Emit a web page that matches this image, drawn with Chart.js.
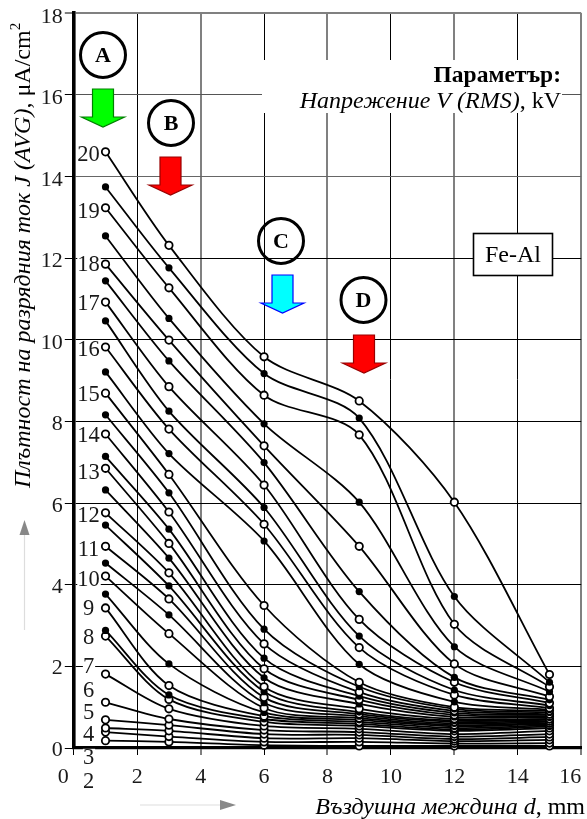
<!DOCTYPE html>
<html lang="bg">
<head>
<meta charset="utf-8">
<title>Плътност на разрядния ток</title>
<script src="https://cdn.jsdelivr.net/npm/chart.js@4"></script>
<style>html,body{margin:0;padding:0;background:#fff}canvas{display:block}</style>
</head>
<body>
<canvas id="c" width="587" height="819"></canvas>
<script>
const gapsMm = [1, 3, 6, 9, 12, 15];
const voltages = [20,19.5,19,18.5,18,17.5,17,16.5,16,15.5,15,14.5,14,13.5,13,12.5,12,11.5,11,10.5,10,9.5,9,8.5,8,7,6,5,4,3,2];
const currentAt1mm = [14.60,13.74,13.23,12.54,11.85,11.44,10.92,10.46,9.82,9.21,8.69,8.16,7.69,7.14,6.85,6.32,5.76,5.46,4.94,4.53,4.21,3.77,3.43,2.88,2.74,1.81,1.12,0.69,0.49,0.39,0.18];
const currentAt3mm = [12.31,11.76,11.27,10.52,9.99,9.48,8.85,8.25,7.81,7.21,6.70,6.25,5.78,5.36,5.01,4.65,4.29,3.97,3.65,3.26,2.80,2.06,1.53,1.30,1.19,0.96,0.71,0.56,0.42,0.28,0.15];
const currentAt6mm = [9.58,9.17,8.64,7.94,7.40,6.99,6.44,5.89,5.48,5.07,3.49,2.91,2.55,2.20,1.94,1.72,1.50,1.38,1.24,1.11,0.98,0.87,0.78,0.71,0.64,0.54,0.44,0.34,0.24,0.15,0.07];
const currentAt9mm = [8.50,8.08,7.67,6.02,4.94,3.83,3.15,2.74,2.46,2.05,1.61,1.50,1.37,1.27,1.18,1.08,0.96,0.88,0.83,0.78,0.73,0.69,0.64,0.59,0.54,0.47,0.39,0.32,0.24,0.15,0.05];
const currentAt12mm = [6.02,3.71,3.03,2.48,2.06,1.73,1.61,1.42,1.30,1.13,1.00,0.96,0.91,0.86,0.81,0.76,0.71,0.67,0.64,0.60,0.56,0.53,0.49,0.45,0.42,0.34,0.28,0.22,0.17,0.11,0.05];
const currentAt15mm = [1.80,1.61,1.50,1.38,1.26,1.18,1.10,1.04,0.98,0.94,0.91,0.87,0.83,0.81,0.78,0.75,0.71,0.69,0.66,0.64,0.61,0.59,0.56,0.53,0.49,0.42,0.34,0.27,0.20,0.12,0.05];
const voltageLabels = ['20','19','18','17','16','15','14','13','12','11','10','9','8','7','6','5','4','3','2'];
const voltageLabelLevels = [14.52,13.13,11.83,10.87,9.75,8.65,7.65,6.74,5.68,4.85,4.11,3.40,2.69,1.98,1.40,0.86,0.32,-0.24,-0.83];
const xTickValues = [0,2,4,6,8,10,12,14,16];
const yTickValues = [0,2,4,6,8,10,12,14,16,18];
const xRange = [0,16];
const yRange = [0,18];

const SERIF = '"Liberation Serif","Times New Roman",serif';
const columns = [currentAt1mm,currentAt3mm,currentAt6mm,currentAt9mm,currentAt12mm,currentAt15mm];
const datasets = voltages.map((v,i)=>{
  const open = Number.isInteger(v);
  return {
    label: v+' kV',
    data: gapsMm.map((g,j)=>({x:g,y:columns[j][i]})),
    borderColor:'#000', borderWidth:1.8, tension:0.3, clip:false, fill:false,
    pointRadius:open?3.7:3.6, pointBorderWidth:open?1.8:0,
    pointBackgroundColor:open?'#fff':'#000', pointBorderColor:'#000'
  };
});

function downArrow(c,cx,top,fill,stroke){
  c.beginPath();
  c.moveTo(cx-10.5,top);c.lineTo(cx+10.5,top);c.lineTo(cx+10.5,top+28);c.lineTo(cx+21.5,top+28);
  c.lineTo(cx,top+38);c.lineTo(cx-21.5,top+28);c.lineTo(cx-10.5,top+28);c.closePath();
  c.fillStyle=fill;c.fill();c.strokeStyle=stroke;c.lineWidth=1.2;c.stroke();
}
function badge(c,cx,cy,t){
  c.beginPath();c.arc(cx,cy,22.5,0,Math.PI*2);c.strokeStyle='#000';c.lineWidth=3;c.stroke();
  c.fillStyle='#000';c.font='bold 22px '+SERIF;c.textAlign='center';c.textBaseline='middle';c.fillText(t,cx,cy+1);
}
function runs(c,parts,x,y){
  parts.forEach(p=>{c.font=p[1];c.fillText(p[0],x,y);x+=c.measureText(p[0]).width;});
  return x;
}
const notes={
  id:'notes',
  beforeDraw(ch){
    const sx=ch.scales.x, sy=ch.scales.y;
    sx.getLabelItems().forEach((it,i)=>{
      const v=sx.ticks[i].value;
      if(v===0) it.options.translation[0]=sx.getPixelForValue(0)-10.5;
      if(v===16) it.options.translation[0]=sx.getPixelForValue(16)-11;
    });
    sy.getLabelItems().forEach((it,i)=>{
      const v=sy.ticks[i].value;
      it.options.translation[1]=sy.getPixelForValue(v)+2+v/18*2.2;
    });
  },
  beforeDatasetsDraw(ch){
    const c=ch.ctx;
    c.save();c.fillStyle='#fff';c.fillRect(262,60,300,53);c.restore();
  },
  afterDatasetsDraw(ch){
    const c=ch.ctx, sx=ch.scales.x, sy=ch.scales.y;
    c.save();
    c.font='22.5px '+SERIF;c.textAlign='center';c.textBaseline='middle';
    const lx=sx.getPixelForValue(gapsMm[0])-17;
    voltageLabels.forEach((t,i)=>{
      const y=sy.getPixelForValue(voltageLabelLevels[i]);
      const w=c.measureText(t).width;
      c.fillStyle='#fff';c.fillRect(lx-w/2,y-9,w+1,18);
      c.fillStyle='#1a1a1a';c.fillText(t,lx,y);
    });
    badge(c,103,55,'A');badge(c,171,123,'B');badge(c,281,241,'C');badge(c,363.5,300,'D');
    downArrow(c,103,89,'#00ff00','#008000');
    downArrow(c,170.5,157,'#ff0000','#990000');
    downArrow(c,282.5,275,'#00ffff','#0000ff');
    downArrow(c,364,335,'#ff0000','#990000');
    c.fillStyle='#000';c.textBaseline='alphabetic';c.textAlign='right';
    c.font='bold 23.5px '+SERIF;c.fillText('Параметър:',561,82);
    c.textAlign='left';
    const second=[['Напрежение V (RMS)','italic 24px '+SERIF],[', kV','24px '+SERIF]];
    let w2=0;second.forEach(p=>{c.font=p[1];w2+=c.measureText(p[0]).width;});
    runs(c,second,561-w2,108);
    c.fillStyle='#fff';c.fillRect(473.5,233.5,79,42);
    c.strokeStyle='#000';c.lineWidth=1.6;c.strokeRect(473.5,233.5,79,42);
    c.fillStyle='#000';c.font='24px '+SERIF;c.textAlign='center';c.textBaseline='middle';c.fillText('Fe-Al',513,255.5);
    c.textAlign='left';c.textBaseline='alphabetic';
    const xt=[['Въздушна междина d','italic 24px '+SERIF],[', mm','24px '+SERIF]];
    let wx=0;xt.forEach(p=>{c.font=p[1];wx+=c.measureText(p[0]).width;});
    runs(c,xt,585-wx,814);
    c.save();c.translate(30,488);c.rotate(-Math.PI/2);c.fillStyle='#000';
    let e=runs(c,[['Плътност на разрядния ток J (AVG)','italic 24px '+SERIF],[', μA/cm','24px '+SERIF]],0,0);
    c.font='15px '+SERIF;c.fillText('2',e,-10);
    c.restore();
    c.strokeStyle='#dddddd';c.lineWidth=1.2;c.beginPath();c.moveTo(24.5,630);c.lineTo(24.5,535);c.stroke();
    c.fillStyle='#888';c.beginPath();c.moveTo(24.5,520);c.lineTo(29.5,535);c.lineTo(19.5,535);c.closePath();c.fill();
    c.beginPath();c.moveTo(140,805);c.lineTo(220,805);c.stroke();
    c.beginPath();c.moveTo(236,805);c.lineTo(220,800);c.lineTo(220,810);c.closePath();c.fill();
    c.restore();
  }
};

new Chart(document.getElementById('c'),{
  type:'line',
  data:{datasets},
  plugins:[notes],
  options:{
    responsive:false,animation:false,
    layout:{padding:{top:13,right:3,left:0,bottom:0}},
    plugins:{legend:{display:false},title:{display:false},tooltip:{enabled:false}},
    scales:{
      x:{
        type:'linear',min:xRange[0],max:xRange[1],
        afterBuildTicks:s=>{s.ticks=xTickValues.map(v=>({value:v}));},
        afterFit:s=>{s.height=71;s.paddingLeft=0;s.paddingRight=0;},
        border:{color:'#000',width:3.2},
        grid:{
          color:c=>(c.tick&&c.tick.value%4===0)?'#808080':'#000',
          lineWidth:c=>(c.tick&&c.tick.value%4===0&&c.tick.value>0)?2:1,
          tickColor:'#000',tickLength:7,tickWidth:1
        },
        ticks:{color:'#1a1a1a',font:{family:SERIF,size:22},padding:9,maxRotation:0,autoSkip:false}
      },
      y:{
        type:'linear',min:yRange[0],max:yRange[1],
        afterBuildTicks:s=>{s.ticks=yTickValues.map(v=>({value:v}));},
        afterFit:s=>{s.width=73.8;s.paddingTop=0;s.paddingBottom=0;},
        border:{color:'#000',width:3.6},
        grid:{
          color:c=>{const v=c.tick&&c.tick.value;return v===18?'#808080':v===16?'#555':v===14?'#666':'#000';},
          lineWidth:c=>(c.tick&&c.tick.value===18)?2:1,
          tickColor:'#000',tickLength:9,tickWidth:1
        },
        ticks:{color:'#1a1a1a',font:{family:SERIF,size:22},padding:2,autoSkip:false}
      }
    }
  }
});
</script>
</body>
</html>
